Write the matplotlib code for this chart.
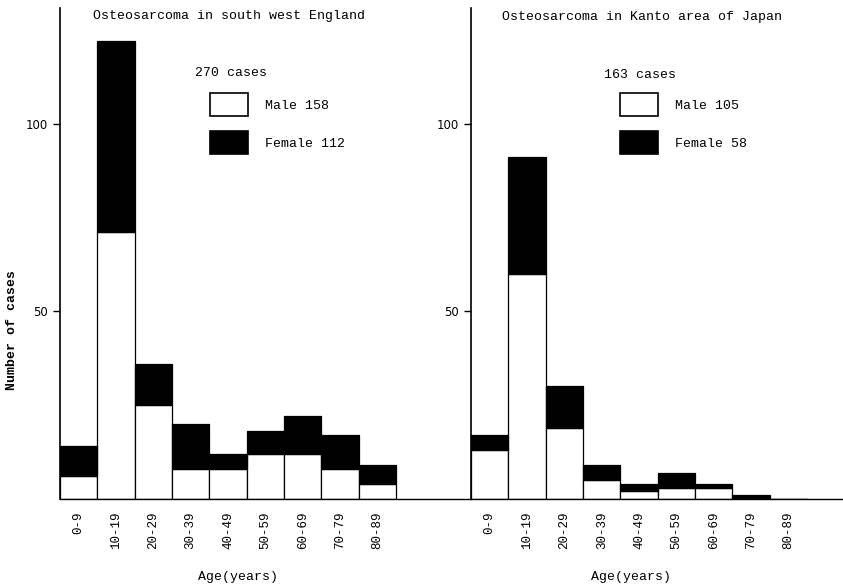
import matplotlib
matplotlib.use("Agg")
import matplotlib.pyplot as plt
from matplotlib.patches import Patch
import numpy as np

age_groups = ["0-9", "10-19", "20-29", "30-39", "40-49", "50-59", "60-69", "70-79", "80-89"]

# south west England
england_male = [6, 71, 25, 8, 8, 12, 12, 8, 4]
england_female = [8, 51, 11, 12, 4, 6, 10, 9, 5]

# Kanto area of Japan
japan_male = [13, 60, 19, 5, 2, 3, 3, 0, 0]
japan_female = [4, 31, 11, 4, 2, 4, 1, 1, 0]

mono = "Liberation Mono"

fig = plt.figure(figsize=(8.43, 5.87), dpi=100)
ax1 = fig.add_axes([60 / 843, 88 / 587, 411 / 843, 491 / 587])
ax2 = fig.add_axes([471 / 843, 88 / 587, 372 / 843, 491 / 587])

x = np.arange(len(age_groups)) + 0.5


def draw_panel(ax, male, female, xmax):
    ax.bar(x, male, width=1.0, color="white", edgecolor="black", linewidth=0.9)
    ax.bar(x, female, width=1.0, bottom=male, color="black", edgecolor="black", linewidth=0.9)
    ax.set_xlim(0, xmax)
    ax.set_ylim(0, 130.8)
    ax.set_yticks([50, 100])
    ax.set_xticks(x)
    ax.set_xticklabels(age_groups, rotation=90, fontfamily=mono, fontsize=9, va="top")
    ax.tick_params(axis="x", length=0, pad=9)
    ax.tick_params(axis="y", length=5, width=1, pad=3.5, labelsize=8.5)
    ax.spines["top"].set_visible(False)
    ax.spines["right"].set_visible(False)
    ax.spines["left"].set_linewidth(1.2)
    ax.spines["bottom"].set_linewidth(1.0)
    ax.patch.set_alpha(0)


draw_panel(ax1, england_male, england_female, 11.01)
draw_panel(ax2, japan_male, japan_female, 9.96)


def add_key(xf, n_male, n_female):
    handles = [Patch(facecolor="white", edgecolor="black", linewidth=1.2),
               Patch(facecolor="black", edgecolor="black", linewidth=1.2)]
    labels = ["Male %d" % n_male, "Female %d" % n_female]
    leg = fig.legend(handles, labels, loc="upper left", bbox_to_anchor=(xf, 1 - 93 / 587),
                     bbox_transform=fig.transFigure, frameon=False, borderpad=0,
                     borderaxespad=0, handlelength=2.9, handleheight=2.3,
                     labelspacing=1.15, handletextpad=1.3,
                     prop={"family": mono, "size": 9.5})
    return leg


fig.text(195 / 843, 1 - 73 / 587, "%d cases" % (sum(england_male) + sum(england_female)),
         fontfamily=mono, fontsize=9.5, va="center")
fig.text(604 / 843, 1 - 75 / 587, "%d cases" % (sum(japan_male) + sum(japan_female)),
         fontfamily=mono, fontsize=9.5, va="center")
add_key(210 / 843, 158, 112)
add_key(620 / 843, 105, 58)

fig.text(93 / 843, 1 - 16 / 587, "Osteosarcoma in south west England",
         fontfamily=mono, fontsize=9.5, va="center")
fig.text(502 / 843, 1 - 17 / 587, "Osteosarcoma in Kanto area of Japan",
         fontfamily=mono, fontsize=9.5, va="center")

fig.text(238 / 843, 1 - 577 / 587, "Age(years)", fontfamily=mono, fontsize=9.5,
         ha="center", va="center")
fig.text(631 / 843, 1 - 577 / 587, "Age(years)", fontfamily=mono, fontsize=9.5,
         ha="center", va="center")
fig.text(12 / 843, 1 - 330 / 587, "Number of cases", fontfamily=mono, fontsize=9.5,
         fontweight="bold", rotation=90, ha="center", va="center")

fig.savefig("out.png", dpi=100, facecolor="white")
